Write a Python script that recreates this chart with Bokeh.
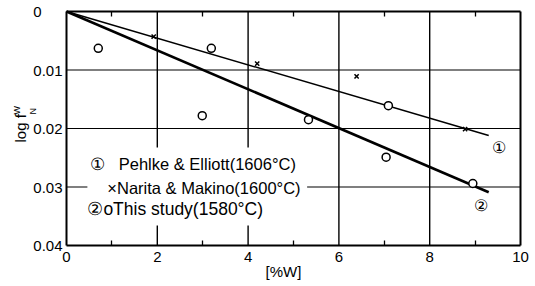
import numpy as np
from bokeh.plotting import figure
from bokeh.models import Range1d, FixedTicker, LinearAxis
from bokeh.core.properties import value
from bokeh.embed import file_html
from bokeh.resources import INLINE

# ---- data ----
study_x = [0.70, 3.19, 2.99, 5.33, 7.09, 7.04, 8.95]
study_y = [0.0063, 0.0063, 0.0178, 0.0185, 0.0161, 0.0249, 0.0294]

narita_x = [1.92, 4.20, 6.39, 8.78]
narita_y = [0.0043, 0.0089, 0.0111, 0.0201]

pehlke_line_x = [0.0, 9.30]
pehlke_line_y = [0.0, 0.0212]

study_line_x = [0.0, 9.30]
study_line_y = [0.0, 0.0309]

x_ticks = [0, 2, 4, 6, 8, 10]
x_minor = [1, 3, 5, 7, 9]
y_ticks = [0, 0.01, 0.02, 0.03, 0.04]
# "0" is padded (figure/punctuation spaces) so it lines up on the left like the original
y_tick_labels = ["0\u2008\u2007\u2007", "0.01", "0.02", "0.03", "0.04"]
grid_x = [2, 4, 6, 8]
grid_y = [0.01, 0.02, 0.03]

legend_lines = ["Pehlke & Elliott(1606°C)", "×Narita & Makino(1600°C)"]
legend_line3 = "②oThis study(1580°C)"

FONT = "Liberation Sans"

# plot box: x 0..10 -> px 66..520, y 0..0.04 -> px 11..245 in a 535x286 canvas
XPX = 45.4
YPX = 5850.0
W, H = 535, 286
x_rng = Range1d(-66 / XPX, (W - 66) / XPX)
y_rng = Range1d(0.04 + (H - 245) / YPX, -11 / YPX)

p = figure(width=W, height=H, x_range=x_rng, y_range=y_rng,
           output_backend="svg", toolbar_location=None,
           min_border=0, min_border_left=0, min_border_right=0,
           min_border_top=0, min_border_bottom=0,
           background_fill_color="white", border_fill_color="white")
p.outline_line_color = None
p.grid.visible = False

# grid lines (from tick arrays)
p.segment(x0=grid_x, y0=[0] * len(grid_x), x1=grid_x, y1=[0.04] * len(grid_x),
          line_color="black", line_width=1.4)
p.segment(x0=[0] * len(grid_y), y0=grid_y, x1=[10] * len(grid_y), y1=grid_y,
          line_color="black", line_width=1.1)

# white panel behind the in-chart legend (breaks the grid lines)
p.quad(left=[0.46], right=[5.30], top=[0.02325], bottom=[0.0366],
       fill_color="white", line_color=None)

# axes placed at the box edges
xa = p.xaxis[0]
xa.fixed_location = 0.04
xa.bounds = (0, 10)
xa.ticker = FixedTicker(ticks=x_ticks, minor_ticks=x_minor)
xa.major_tick_in = 0
xa.major_tick_out = 0
xa.minor_tick_in = 5
xa.minor_tick_out = 0
xa.minor_tick_line_width = 1.3
xa.axis_line_width = 2
xa.major_label_text_font = FONT
xa.major_label_text_font_size = "15px"
xa.major_label_text_color = "black"
xa.major_label_standoff = 6

ya = p.yaxis[0]
ya.fixed_location = 0
ya.bounds = (0, 0.04)
ya.ticker = FixedTicker(ticks=y_ticks)
ya.major_label_overrides = {t: l for t, l in zip(y_ticks, y_tick_labels)}
ya.major_tick_in = 0
ya.major_tick_out = 0
ya.minor_tick_in = 0
ya.minor_tick_out = 0
ya.axis_line_width = 2
ya.major_label_text_font = FONT
ya.major_label_text_font_size = "15px"
ya.major_label_text_color = "black"
ya.major_label_standoff = 4

top = LinearAxis(fixed_location=0, bounds=(0, 10),
                 ticker=FixedTicker(ticks=x_ticks, minor_ticks=x_minor),
                 major_label_overrides={t: "" for t in x_ticks},
                 major_tick_in=0, major_tick_out=0,
                 minor_tick_in=5, minor_tick_out=0, minor_tick_line_width=1.3,
                 major_label_standoff=0, major_label_text_font_size="1px",
                 axis_line_width=2)
p.add_layout(top, "above")

right = LinearAxis(fixed_location=10, bounds=(0, 0.04),
                   ticker=FixedTicker(ticks=y_ticks),
                   major_label_overrides={t: "" for t in y_ticks},
                   major_tick_in=0, major_tick_out=0,
                   minor_tick_in=0, minor_tick_out=0,
                   major_label_standoff=0, major_label_text_font_size="1px",
                   axis_line_width=2)
p.add_layout(right, "right")

# fitted lines
p.line(pehlke_line_x, pehlke_line_y, line_color="black", line_width=1.5)
p.line(study_line_x, study_line_y, line_color="black", line_width=2.6)

# points
p.scatter(study_x, study_y, marker="circle", size=8, fill_color="white",
          line_color="black", line_width=1.5)
p.scatter(narita_x, narita_y, marker="x", size=6, line_color="black", line_width=1.5)

# in-chart legend texts
p.text(x=[0.51], y=[0.0260], text=["①"], text_font=value(FONT), text_font_size="16.5px",
       text_baseline="middle", text_align="left", text_color="black")
p.text(x=[1.15, 0.90], y=[0.0260, 0.0301], text=legend_lines,
       text_font=value(FONT), text_font_size="16.5px", text_baseline="middle",
       text_align="left", text_color="black")
p.text(x=[0.46], y=[0.0337], text=[legend_line3],
       text_font=value(FONT), text_font_size="17.5px", text_baseline="middle",
       text_align="left", text_color="black")

# line markers
p.text(x=[9.52, 9.12], y=[0.0232, 0.0332], text=["①", "②"], text_font=value(FONT),
       text_font_size="16px", text_baseline="middle", text_align="center", text_color="black")

# axis titles
p.text(x=[4.78], y=[0.04444], text=["[%W]"], text_font=value(FONT), text_font_size="15px",
       text_align="center", text_baseline="middle", text_color="black")
p.text(x=[-1.013], y=[0.02239], text=["log f"], angle=np.pi / 2, text_font=value(FONT),
       text_font_size="15px", text_align="left", text_baseline="middle", text_color="black")
p.text(x=[-1.101, -0.727], y=[0.01761, 0.01761], text=["W", "N"], angle=np.pi / 2,
       text_font=value(FONT), text_font_size="9px", text_align="left",
       text_baseline="middle", text_color="black")

open("out.html", "w").write(file_html(p, INLINE))
